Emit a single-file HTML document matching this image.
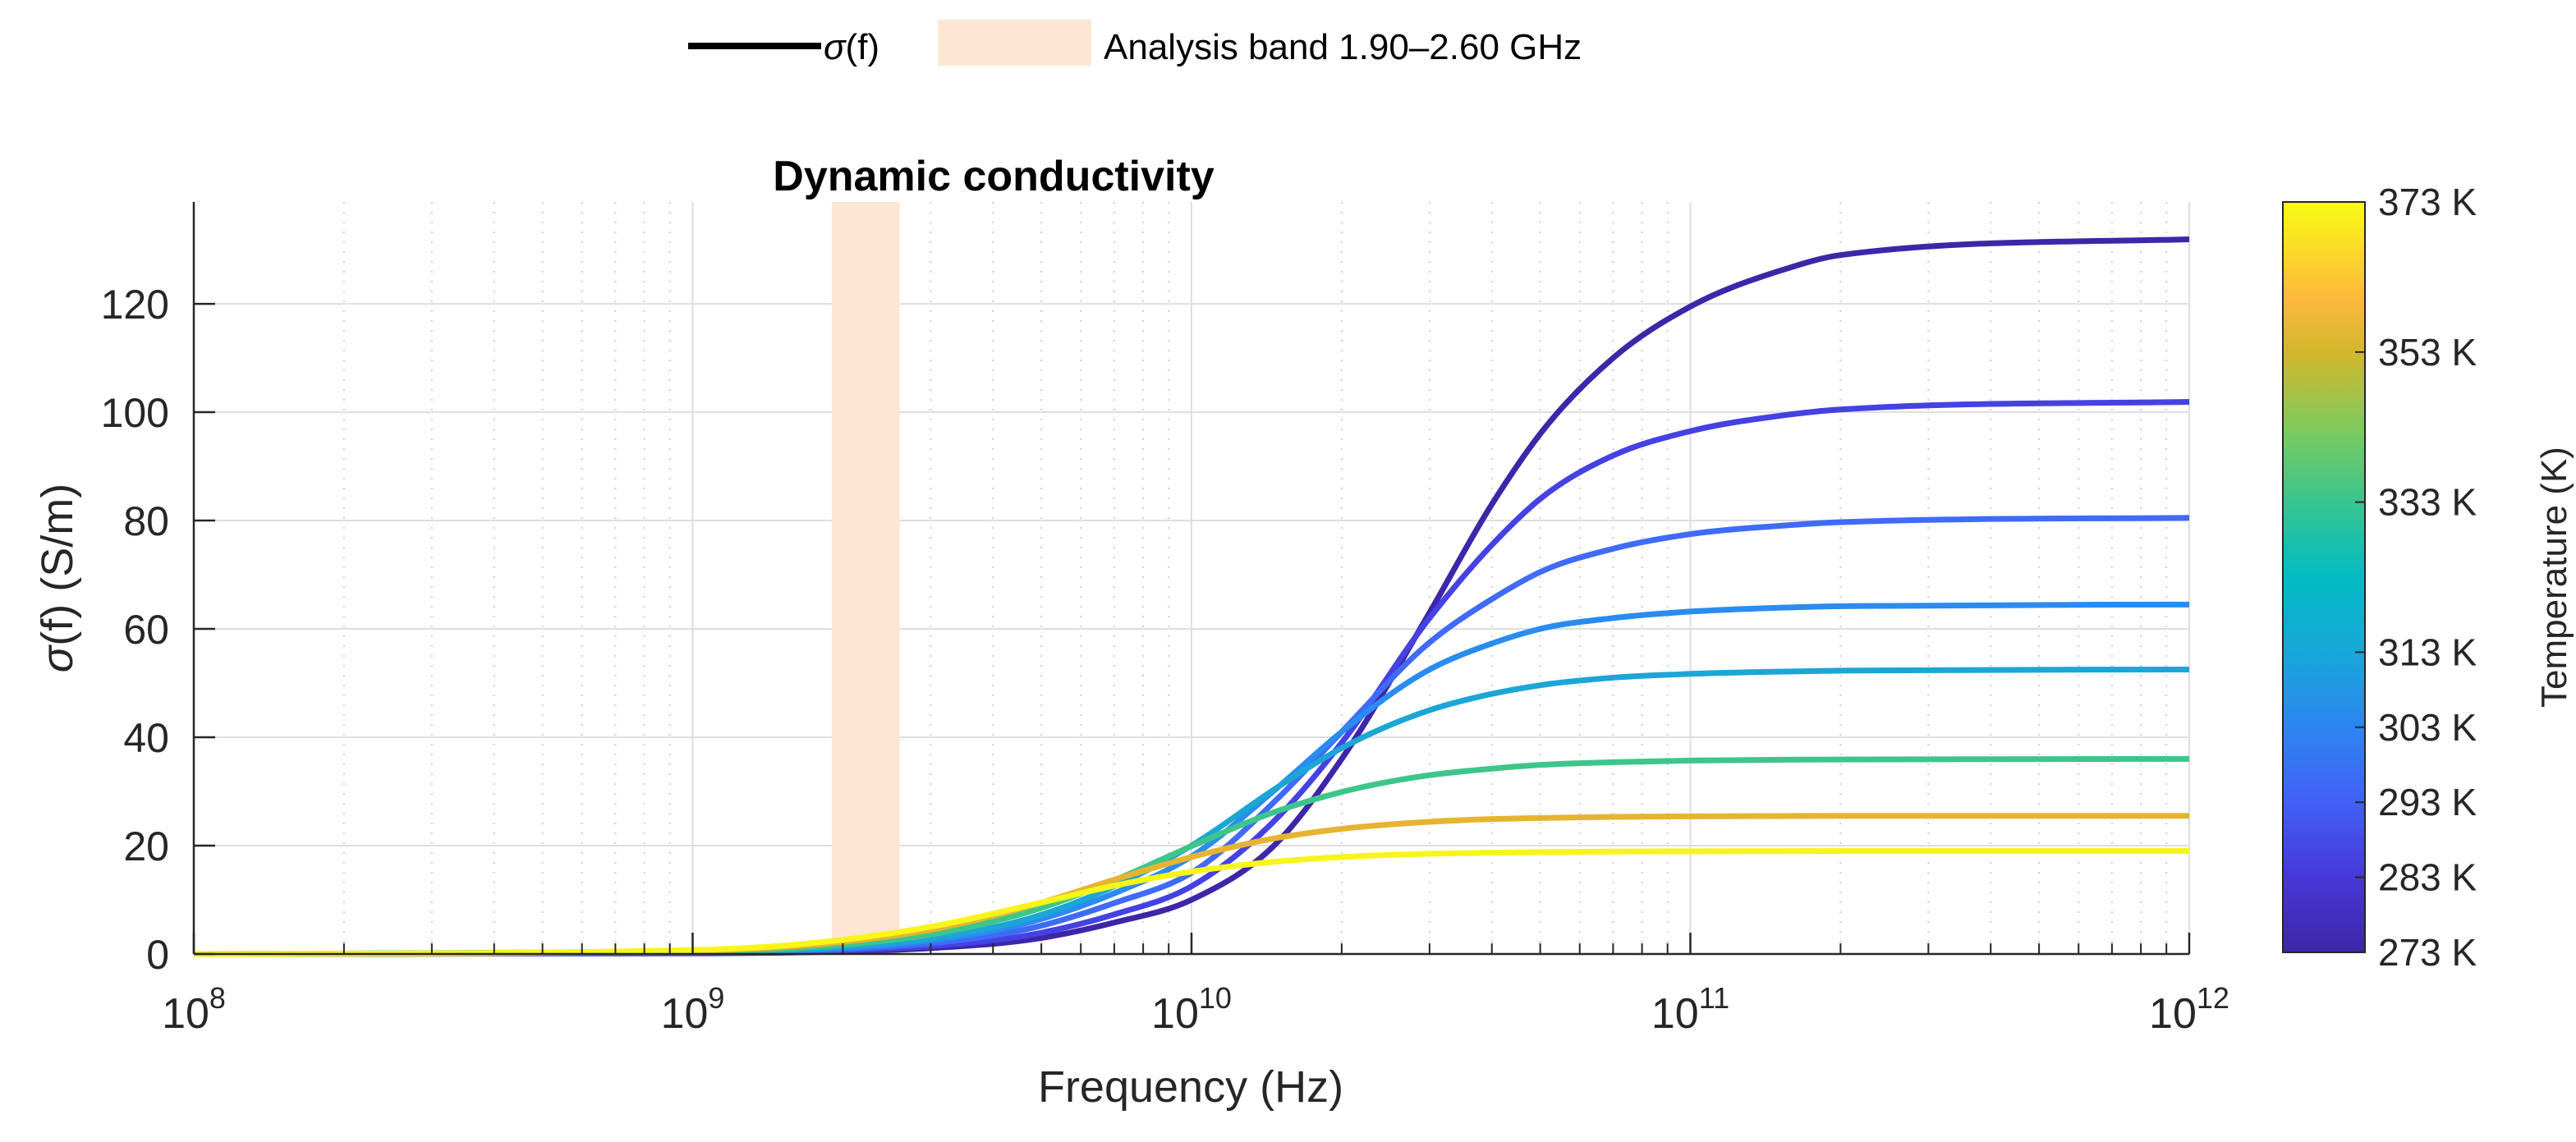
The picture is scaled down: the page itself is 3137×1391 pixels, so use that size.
<!DOCTYPE html>
<html><head><meta charset="utf-8">
<style>
html,body{margin:0;padding:0;background:#fff;}
svg{display:block;font-family:"Liberation Sans",sans-serif;}
</style></head>
<body>
<svg id="chart" width="3137" height="1391" viewBox="0 0 3137 1391" xmlns="http://www.w3.org/2000/svg">
  <defs>
    <linearGradient id="parula" x1="0" y1="1" x2="0" y2="0">
      <stop offset="0" stop-color="#3e26a8"/>
      <stop offset="0.1" stop-color="#4738d8"/>
      <stop offset="0.2" stop-color="#4260f6"/>
      <stop offset="0.3" stop-color="#2e85f2"/>
      <stop offset="0.4" stop-color="#17a7d9"/>
      <stop offset="0.5" stop-color="#03bbc3"/>
      <stop offset="0.6" stop-color="#38c58f"/>
      <stop offset="0.7" stop-color="#80ca5c"/>
      <stop offset="0.8" stop-color="#d3b72b"/>
      <stop offset="0.87" stop-color="#fcb83c"/>
      <stop offset="1" stop-color="#f9fb14"/>
    </linearGradient>
  </defs>
  <g id="grid"></g>
  <rect id="band" fill="#fde6d2"/>
  <g id="curves"></g>
  <g id="axes"></g>
  <text x="1210" y="232" font-size="52" font-weight="bold" text-anchor="middle" fill="#000">Dynamic conductivity</text>
  <text x="1450" y="1342" font-size="54" text-anchor="middle" fill="#262626">Frequency (Hz)</text>
  <text transform="translate(88,704) rotate(-90)" font-size="54" text-anchor="middle" fill="#262626"><tspan font-style="italic">σ</tspan>(f) (S/m)</text>
  <g>
    <line x1="838" y1="56" x2="1000" y2="56" stroke="#000" stroke-width="8"/>
    <text x="1003" y="72" font-size="44" fill="#000"><tspan font-style="italic">σ</tspan>(f)</text>
    <rect x="1142" y="24" width="187" height="56" fill="#fde6d2"/>
    <text x="1344" y="72" font-size="44" fill="#000">Analysis band 1.90–2.60 GHz</text>
  </g>
  <g id="cbar">
    <rect x="2780" y="246" width="100" height="914" fill="url(#parula)" stroke="#262626" stroke-width="2"/>
    <text transform="translate(3125,703) rotate(-90)" font-size="44" text-anchor="middle" fill="#262626">Temperature (K)</text>
  </g>
</svg>
<script>
// ---- data ----
const freqs = [1e8,1e9,2e9,3e9,5e9,7e9,1e10,1.5e10,2e10,3e10,4e10,5e10,7e10,1e11,1.5e11,2e11,1e12];
const temps = [273,283,293,303,313,333,353,373];
const s273 = [0.001,0.12,0.48,1.08,2.96,5.8,10.0,21.0,36.0,63.0,83.0,96.0,110.0,119.5,126.0,129.0,131.9];
const s283 = [0.002,0.16,0.65,1.45,3.92,7.3,12.5,25.5,39.0,62.0,75.5,84.0,92.0,96.5,99.3,100.5,101.9];
const s293 = [0.002,0.22,0.88,1.96,5.22,9.4,15.0,29.0,41.0,57.5,65.5,70.5,74.8,77.5,79.0,79.7,80.5];
const s303 = [0.003,0.29,1.13,2.48,6.45,11.2,18.0,31.0,41.0,52.5,57.3,60.0,62.0,63.2,63.9,64.2,64.5];
const s313 = [0.003,0.33,1.31,2.86,7.24,12.5,20.0,31.0,38.0,45.0,48.0,49.6,51.0,51.7,52.1,52.3,52.5];
const s333 = [0.004,0.44,1.70,3.6,8.49,13.6,19.9,26.5,29.9,33.0,34.2,34.9,35.4,35.7,35.85,35.9,36.0];
const s353 = [0.006,0.59,2.21,4.48,9.48,13.7,17.9,21.5,23.1,24.4,24.9,25.1,25.3,25.4,25.45,25.5,25.5];
const s373 = [0.008,0.73,2.62,5.03,9.5,12.6,15.2,17.1,17.9,18.5,18.7,18.8,18.9,18.95,18.98,19.0,19.0];
const seriesValues = [s273,s283,s293,s303,s313,s333,s353,s373];
const seriesColors = ["#3e26a8","#4542e3","#3f6bf8","#2a8cef","#1ca6d6","#3ec68a","#e6b431","#f7f51a"];
const yTicks = [0,20,40,60,80,100,120];
const xTickExps = [8,9,10,11,12];
const band = [1.9e9,2.6e9];
const cbTicks = [273,283,293,303,313,333,353,373];

// ---- axes ----
const L=236,R=2666,T=246,B=1162,Y0=0,Y1=138.8;
const xs = f => L + (Math.log10(f)-8)/4*(R-L);
const ys = v => B - (v-Y0)/(Y1-Y0)*(B-T);
const NS="http://www.w3.org/2000/svg";
function mk(tag,attrs,parent){const e=document.createElementNS(NS,tag);for(const k in attrs)e.setAttribute(k,attrs[k]);parent.appendChild(e);return e;}

const grid=document.getElementById('grid');
for(let d=8;d<12;d++){for(let m=2;m<=9;m++){const x=xs(m*Math.pow(10,d));
  const l=mk('line',{x1:x,x2:x,y1:T,y2:B,stroke:'#cfcfcf','stroke-width':2,'stroke-dasharray':'2 10'},grid);
  
  }}
xTickExps.forEach(e=>{const x=xs(Math.pow(10,e));
  const l=mk('line',{x1:x,x2:x,y1:T,y2:B,stroke:'#dedede','stroke-width':2},grid);
  
  });
yTicks.forEach(v=>{const y=ys(v);
  const l=mk('line',{x1:L,x2:R,y1:y,y2:y,stroke:'#dedede','stroke-width':2},grid);
  
  });

const bandEl=document.getElementById('band');
bandEl.setAttribute('x',xs(band[0]));bandEl.setAttribute('width',xs(band[1])-xs(band[0]));
bandEl.setAttribute('y',T);bandEl.setAttribute('height',B-T);

function monoPath(px,py){const n=px.length,d=[],m=[];
  for(let i=0;i<n-1;i++)d.push((py[i+1]-py[i])/(px[i+1]-px[i]));
  m[0]=d[0];m[n-1]=d[n-2];
  for(let i=1;i<n-1;i++){if(d[i-1]*d[i]<=0){m[i]=0;}else{const h0=px[i]-px[i-1],h1=px[i+1]-px[i];m[i]=(d[i-1]*h1+d[i]*h0)/(h0+h1);}}
  for(let i=0;i<n-1;i++){if(d[i]===0){m[i]=0;m[i+1]=0;continue;}const a=m[i]/d[i],b=m[i+1]/d[i],s=a*a+b*b;if(s>9){const t=3/Math.sqrt(s);m[i]=t*a*d[i];m[i+1]=t*b*d[i];}}
  let p='M'+px[0]+','+py[0];
  for(let i=0;i<n-1;i++){const h=(px[i+1]-px[i])/3;p+=' C'+(px[i]+h)+','+(py[i]+m[i]*h)+' '+(px[i+1]-h)+','+(py[i+1]-m[i+1]*h)+' '+px[i+1]+','+py[i+1];}
  return p;}

const cg=document.getElementById('curves');
seriesValues.forEach((vals,k)=>{
  const px=freqs.map(xs),py=vals.map(ys);
  const p=mk('path',{d:monoPath(px,py),fill:'none',stroke:seriesColors[k],'stroke-width':7,'stroke-linejoin':'round'},cg);
  
  
});

const ax=document.getElementById('axes');
let a=mk('line',{x1:L,x2:L,y1:T,y2:B,stroke:'#262626','stroke-width':2.5},ax);


a=mk('line',{x1:L,x2:R,y1:B,y2:B,stroke:'#262626','stroke-width':2.5},ax);


yTicks.forEach(v=>{const y=ys(v);
  const t=mk('line',{x1:L,x2:L+26,y1:y,y2:y,stroke:'#262626','stroke-width':2.5},ax);
  
  
  const tx=mk('text',{x:L-30,y:y+18,'font-size':50,'text-anchor':'end',fill:'#262626'},ax);
  tx.textContent=v;
  
  });
xTickExps.forEach(e=>{const x=xs(Math.pow(10,e));
  const t=mk('line',{x1:x,x2:x,y1:B,y2:B-26,stroke:'#262626','stroke-width':2.5},ax);
  
  
  const tx=mk('text',{x:x,y:1252,'font-size':52,'text-anchor':'middle',fill:'#262626'},ax);
  tx.innerHTML='10<tspan dy="-24" font-size="36">'+e+'</tspan>';
  
  });
for(let d=8;d<12;d++){for(let m=2;m<=9;m++){const x=xs(m*Math.pow(10,d));
  const t=mk('line',{x1:x,x2:x,y1:B,y2:B-13,stroke:'#262626','stroke-width':2},ax);
  
  }}

const cb=document.getElementById('cbar');
const cT=246,cB=1160,tMin=273,tMax=373;
const cy=v=>cB-(v-tMin)/(tMax-tMin)*(cB-cT);
cbTicks.forEach(v=>{const y=cy(v);
  if(v!==tMin&&v!==tMax){const t=mk('line',{x1:2868,x2:2880,y1:y,y2:y,stroke:'#262626','stroke-width':2},cb);
  
  }
  const tx=mk('text',{x:2896,y:y+16,'font-size':46,fill:'#262626'},cb);
  tx.textContent=v+' K';
  
  });
</script>
</body></html>
